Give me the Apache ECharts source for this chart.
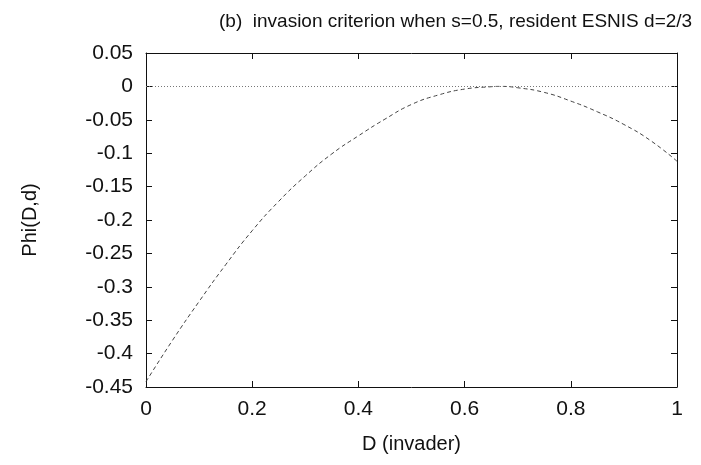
<!DOCTYPE html>
<html>
<head>
<meta charset="utf-8">
<script src="https://cdn.jsdelivr.net/npm/echarts@6/dist/echarts.min.js"></script>
<style>
  html, body { margin: 0; padding: 0; background: #fff; }
  #chart { width: 701px; height: 465px; }
</style>
</head>
<body>
<div id="chart"></div>
<script>
// Invader strategy D and the invasion fitness Phi(D, d) against resident d = 2/3
const invaderD = [0, 0.05, 0.1, 0.15, 0.2, 0.25, 0.3, 0.35, 0.4, 0.45, 0.5, 0.55, 0.6, 0.65, 0.6667, 0.7, 0.75, 0.8, 0.85, 0.9, 0.95, 1];
const phiValues = [-0.442, -0.380, -0.322, -0.267, -0.216, -0.172, -0.134, -0.101, -0.074, -0.049, -0.027, -0.013, -0.004, -0.0005, 0, -0.002, -0.009, -0.022, -0.038, -0.057, -0.081, -0.112];

const titleText = '(b)  invasion criterion when s=0.5, resident ESNIS d=2/3';
const xName = 'D (invader)';
const yName = 'Phi(D,d)';

const FONT = '"Liberation Sans", Arial, sans-serif';
const INK = '#111';

const chart = echarts.init(document.getElementById('chart'), null, { renderer: 'canvas' });

const axisCommon = {
  type: 'value',
  axisLine: { show: true, onZero: false, lineStyle: { color: INK, width: 1 } },
  axisTick: { show: true, inside: true, length: 6, lineStyle: { color: INK, width: 1 } },
  splitLine: { show: false }
};

chart.setOption({
  animation: false,
  backgroundColor: '#fff',
  title: {
    text: titleText,
    left: 214,
    top: 7,
    textStyle: { fontFamily: FONT, fontSize: 19, fontWeight: 'normal', color: INK }
  },
  grid: { left: 146, right: 24, top: 53, bottom: 78, containLabel: false },
  xAxis: [
    Object.assign({}, axisCommon, {
      min: 0, max: 1, interval: 0.2, position: 'bottom',
      name: xName, nameLocation: 'middle', nameGap: 47,
      nameTextStyle: { fontFamily: FONT, fontSize: 20, color: INK },
      axisLabel: { fontFamily: FONT, fontSize: 21, color: INK, margin: 12 }
    }),
    Object.assign({}, axisCommon, {
      min: 0, max: 1, interval: 0.2, position: 'top',
      axisLabel: { show: false }
    })
  ],
  yAxis: [
    Object.assign({}, axisCommon, {
      min: -0.45, max: 0.05, interval: 0.05, position: 'left',
      name: yName, nameLocation: 'middle', nameGap: 106, nameRotate: 90,
      nameTextStyle: { fontFamily: FONT, fontSize: 20, color: INK },
      axisLabel: { fontFamily: FONT, fontSize: 21, color: INK, margin: 13 }
    }),
    Object.assign({}, axisCommon, {
      min: -0.45, max: 0.05, interval: 0.05, position: 'right',
      axisLabel: { show: false }
    })
  ],
  series: [
    {
      type: 'line',
      data: invaderD.map((d, i) => [d, phiValues[i]]),
      smooth: true,
      showSymbol: false,
      lineStyle: { color: '#444', width: 1, type: [4, 3] },
      markLine: {
        silent: true,
        symbol: 'none',
        label: { show: false },
        lineStyle: { color: '#777', width: 1, type: [1, 2] },
        data: [{ yAxis: 0 }]
      }
    }
  ]
});
</script>
</body>
</html>
